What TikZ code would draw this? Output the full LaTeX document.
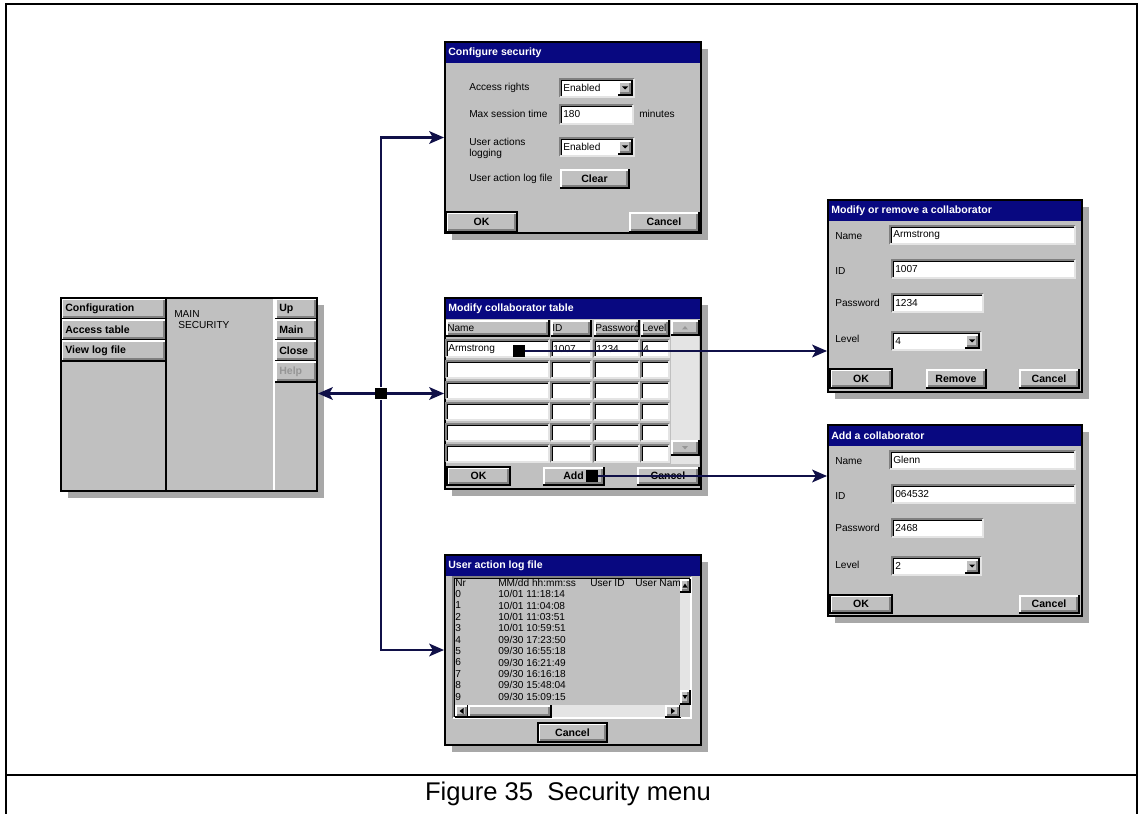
\documentclass[tikz,border=0pt]{standalone}
\usepackage{fontspec}
\setmainfont{Liberation Sans}
\usetikzlibrary{arrows.meta,fit,calc}

\definecolor{wingrey}{RGB}{192,192,192}
\definecolor{shadegrey}{RGB}{168,168,168}
\definecolor{titleblue}{RGB}{8,8,128}
\definecolor{edgegrey}{RGB}{128,128,128}
\definecolor{trackgrey}{RGB}{228,228,228}
\definecolor{linkblue}{RGB}{16,16,72}
\definecolor{offgrey}{RGB}{150,150,150}

\newcommand{\wf}{\fontsize{7.2}{8}\selectfont}
\newcommand{\wfb}{\fontsize{7.5}{8.5}\selectfont\bfseries}

\tikzset{
  win/.style={draw=black, line width=1.4pt, fill=wingrey, inner sep=0pt},
  raised/.style={fill=wingrey, inner sep=0pt},
  sunken/.style={fill=white, inner sep=0pt},
  wtext/.style={inner sep=0pt, font=\wf, anchor=west},
  wbold/.style={inner sep=0pt, font=\wfb},
  wtitle/.style={inner sep=0pt, font=\wfb, text=white, anchor=west},
  link/.style={draw=linkblue, line width=1.7pt,
    -{Stealth[length=10.5pt,width=9pt,inset=2.5pt]}},
  junc/.style={fill=black, inner sep=0pt, minimum size=8.5pt},
}

% window: name, x1, y1, x2, y2, title
\newcommand{\winbox}[6]{%
  \fill[shadegrey] ({#2+7},{#3+7}) rectangle ({#4+7},{#5+7});
  \node[win, fit={({#2},{#3}) ({#4},{#5})}] (#1) {};
  \fill[titleblue] ({#2},{#3}) rectangle ({#4},{#3+21});
  \draw[line width=1.4pt] ({#2},{#3}) rectangle ({#4},{#5});
  \node[wtitle] (#1-t) at ({#2+3},{#3+11}) {#6};
}
% raised button
\newcommand{\wbtn}[6]{%
  \node[raised, fit={({#2},{#3}) ({#4},{#5})}] (#1) {};
  \draw[white, line width=0.9pt] ({#2+1},{#5-1}) -- ({#2+1},{#3+1}) -- ({#4-1},{#3+1});
  \draw[edgegrey, line width=0.9pt] ({#2+2},{#5-2}) -- ({#4-2},{#5-2}) -- ({#4-2},{#3+2});
  \draw[black, line width=0.9pt] ({#2},{#5}) -- ({#4},{#5}) -- ({#4},{#3});
  \node[wbold] (#1-l) at (#1) {#6};
}
% raised key, text to the left
\newcommand{\wkey}[6]{%
  \wbtn{#1}{#2}{#3}{#4}{#5}{}
  \node[wbold, anchor=west] (#1-k) at ({#2+4},{(#3+#5)/2}) {#6};
}
% default outline
\newcommand{\wdef}[1]{\draw[line width=1.3pt] (#1.south west) rectangle (#1.north east);}
% sunken field
\newcommand{\wfield}[6]{%
  \node[sunken, fit={({#2},{#3}) ({#4},{#5})}] (#1) {};
  \draw[edgegrey, line width=0.9pt] ({#2},{#5}) -- ({#2},{#3}) -- ({#4},{#3});
  \draw[black, line width=0.8pt] ({#2+1.2},{#5-1}) -- ({#2+1.2},{#3+1.2}) -- ({#4-1},{#3+1.2});
  \draw[trackgrey, line width=0.9pt] ({#2},{#5}) -- ({#4},{#5}) -- ({#4},{#3});
  \node[wtext] (#1-l) at ({#2+3},{(#3+#5)/2}) {#6};
}
% combo box
\newcommand{\wcombo}[6]{%
  \wfield{#1}{#2}{#3}{#4}{#5}{#6}
  \wbtn{#1-b}{#4-16}{#3+2}{#4-2}{#5-2}{}
  \fill ({#4-12},{(#3+#5)/2-1.5}) -- ({#4-6},{(#3+#5)/2-1.5}) -- ({#4-9},{(#3+#5)/2+1.5}) -- cycle;
}

\begin{document}
\begin{tikzpicture}[x=0.025cm, y=-0.025cm]
\useasboundingbox (0,0) rectangle (1140,814);

% frame and caption
\draw[line width=1.5pt] (6,816) -- (6,4) -- (1137,4) -- (1137,816);
\draw[line width=1.5pt] (6,775) -- (1137,775);
\node[inner sep=0pt, font=\fontsize{18.2}{21}\selectfont] (cap) at (568,794) {Figure 35\ \ Security menu};

% main menu
\fill[shadegrey] (68,305) rectangle (324,498);
\node[win, fit={(61,298) (317,491)}] (menu) {};
\wkey{m-conf}{61}{298}{166}{319}{Configuration}
\wkey{m-acc}{61}{319}{166}{340}{Access table}
\wkey{m-log}{61}{340}{166}{361}{View log file}
\wkey{m-up}{275}{298}{317}{319}{Up}
\wkey{m-main}{275}{319}{317}{340}{Main}
\wkey{m-close}{275}{340}{317}{361}{Close}
\wbtn{m-help}{275}{361}{317}{382}{}
\node[wbold, anchor=west, text=offgrey] (m-help-k) at (279,371.5) {Help};
\draw[line width=1.2pt] (166,298) -- (166,491);
\draw[white, line width=0.8pt] (274,298) -- (274,491);
\node[wtext] (m-path1) at (174,314) {MAIN};
\node[wtext] (m-path2) at (178,325) {SECURITY};
\draw[line width=1.4pt] (61,298) rectangle (317,491);

% configure security
\winbox{cfg}{445}{42}{701}{233}{Configure security}
\node[wtext] (cfg-ar) at (469,88) {Access rights};
\wcombo{cfg-arc}{560}{79}{634}{97}{Enabled}
\node[wtext] (cfg-ms) at (469,114) {Max session time};
\wfield{cfg-msf}{560}{105}{633}{124}{180}
\node[wtext] (cfg-min) at (639,114) {minutes};
\node[wtext, align=left] (cfg-ua) at (469,148.5) {User actions\\logging};
\wcombo{cfg-uac}{560}{138}{634}{156}{Enabled}
\node[wtext] (cfg-lf) at (469,179) {User action log file};
\wbtn{cfg-clr}{560}{169}{629}{188}{Clear}
\wbtn{cfg-ok}{446}{212}{517}{232}{OK}
\wdef{cfg-ok}
\wbtn{cfg-cn}{629}{212}{699}{232}{Cancel}

% collaborator table
\winbox{tbl}{445}{298}{701}{489}{Modify collaborator table}
\foreach \xa/\xb/\c/\h in {446/549/n/Name,551/591/i/ID,594/639/p/Password,641/669/l/Level}{
  \wkey{tbl-h\c}{\xa}{320}{\xb}{336}{}
  \node[wtext] (tbl-h\c-t) at (\xa+1,328) {\h};
  \foreach \r in {0,...,5}
    \wfield{tbl-\c\r}{\xa}{340+21*\r}{\xb}{357+21*\r}{};
}
\node[wtext] (tbl-v1) at (448,349) {Armstrong};
\node[wtext] (tbl-v2) at (553,349) {1007};
\node[wtext] (tbl-v3) at (596,349) {1234};
\node[wtext] (tbl-v4) at (643,349) {4};
\fill[trackgrey] (671,320) rectangle (699,464);
\wbtn{tbl-up}{671}{320}{699}{335}{}
\fill[offgrey] (682,329.5) -- (688,329.5) -- (685,326) -- cycle;
\wbtn{tbl-dn}{671}{440}{699}{455}{}
\fill[offgrey] (682,446) -- (688,446) -- (685,449.5) -- cycle;
\wbtn{tbl-ok}{447}{467}{510}{485}{OK}
\wdef{tbl-ok}
\wbtn{tbl-add}{543}{467}{604}{485}{Add}
\wbtn{tbl-cn}{637}{467}{699}{485}{Cancel}

% log file
\winbox{logw}{445}{555}{701}{745}{User action log file}
\draw[edgegrey, line width=0.9pt] (453,718) -- (453,577) -- (691,577);
\draw[black, line width=0.8pt] (454.2,717) -- (454.2,578.2) -- (690,578.2);
\draw[white, line width=0.9pt] (453,718) -- (691,718) -- (691,577);
\node[wtext] (log-h1) at (455,583) {Nr};
\node[wtext] (log-h2) at (498,583) {MM/dd hh:mm:ss};
\node[wtext] (log-h3) at (590,583) {User ID};
\node[wtext] (log-h4) at (635,583) {User Name};
\foreach \t [count=\i from 0] in {10/01 11:18:14,10/01 11:04:08,10/01 11:03:51,
    10/01 10:59:51,09/30 17:23:50,09/30 16:55:18,09/30 16:21:49,
    09/30 16:16:18,09/30 15:48:04,09/30 15:09:15}{
  \node[wtext] (log-n\i) at (455,{594+11.4*\i}) {\i};
  \node[wtext] (log-t\i) at (498,{594+11.4*\i}) {\t};
}
\fill[trackgrey] (680,579) rectangle (690,705);
\wbtn{log-up}{680}{579}{690}{592}{}
\fill (682.5,587.5) -- (687.5,587.5) -- (685,583.5) -- cycle;
\wbtn{log-dn}{680}{690}{690}{704}{}
\fill (682.5,695) -- (687.5,695) -- (685,699) -- cycle;
\fill[trackgrey] (455,705) rectangle (680,717);
\wbtn{log-lt}{455}{705}{468}{717}{}
\fill (463.5,708) -- (463.5,714) -- (459.5,711) -- cycle;
\wbtn{log-th}{468}{705}{551}{717}{}
\wbtn{log-rt}{665}{705}{680}{717}{}
\fill (671,708) -- (671,714) -- (675,711) -- cycle;
\fill[wingrey] (680,705) rectangle (690,717);
\wbtn{log-cn}{538}{723}{607}{742}{Cancel}
\wdef{log-cn}

% modify or remove
\winbox{modw}{828}{200}{1082}{392}{Modify or remove a collaborator}
\node[wtext] (mod-n) at (835,236) {Name};
\wfield{mod-nf}{890}{226}{1075}{244}{Armstrong}
\node[wtext] (mod-i) at (835,271) {ID};
\wfield{mod-if}{892}{260}{1075}{278}{1007}
\node[wtext] (mod-p) at (835,303) {Password};
\wfield{mod-pf}{892}{294}{983}{312}{1234}
\node[wtext] (mod-l) at (835,339) {Level};
\wcombo{mod-lf}{892}{332}{981}{350}{4}
\wbtn{mod-ok}{830}{369}{892}{388}{OK}
\wdef{mod-ok}
\wbtn{mod-rm}{926}{369}{986}{388}{Remove}
\wbtn{mod-cn}{1019}{369}{1079}{388}{Cancel}

% add
\winbox{addw}{828}{425}{1082}{616}{Add a collaborator}
\node[wtext] (add-n) at (835,461) {Name};
\wfield{add-nf}{890}{451}{1075}{469}{Glenn}
\node[wtext] (add-i) at (835,496) {ID};
\wfield{add-if}{892}{485}{1075}{503}{064532}
\node[wtext] (add-p) at (835,528) {Password};
\wfield{add-pf}{892}{519}{983}{537}{2468}
\node[wtext] (add-l) at (835,565) {Level};
\wcombo{add-lf}{892}{557}{981}{575}{2}
\wbtn{add-ok}{830}{595}{892}{613}{OK}
\wdef{add-ok}
\wbtn{add-cn}{1019}{595}{1079}{613}{Cancel}

% connectors
\node[junc] (hub) at (381,393.5) {};
\draw[link] (hub) -- (hub -| menu.east);
\draw[link] (hub) -- (tbl.west);
\draw[link] (hub) |- (cfg.west);
\draw[link] (hub) |- (logw.west);
\node[junc] (selrow) at (519,351) {};
\draw[link] (selrow) -- (selrow -| modw.west);
\node[junc] (seladd) at (592,476) {};
\draw[link] (seladd) -- (seladd -| addw.west);
\end{tikzpicture}
\end{document}
